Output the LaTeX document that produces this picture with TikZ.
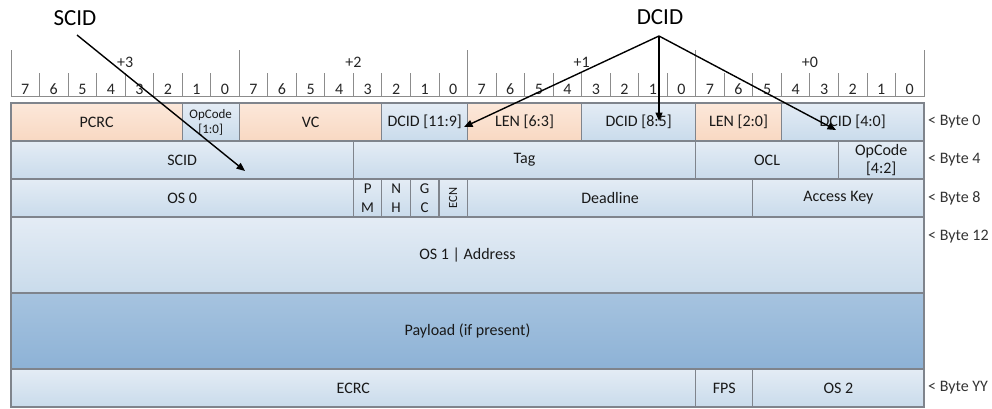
\documentclass[tikz,border=0pt]{standalone}
\usepackage{fontspec}
\setmainfont{Carlito}
\usepackage{tikz}
\usetikzlibrary{positioning}
\usetikzlibrary{arrows.meta}

\definecolor{fieldline}{HTML}{7F848C}
\definecolor{rulerline}{HTML}{8C8C8C}
\definecolor{blueTop}{HTML}{E4ECF5}
\definecolor{blueBot}{HTML}{C9DBEB}
\definecolor{orTop}{HTML}{FCE8DA}
\definecolor{orBot}{HTML}{F8D8C2}
\definecolor{payTop}{HTML}{A6C3DF}
\definecolor{payBot}{HTML}{8DB2D6}

\newcommand{\bitw}{28.53}

\tikzset{
  field/.style={draw=fieldline, line width=1.1pt, minimum height=38, inner sep=0pt, outer sep=0pt, align=center, text=black!90, font=\fontsize{16}{18}\selectfont},
  blue field/.style={field, top color=blueTop, bottom color=blueBot},
  orange field/.style={field, top color=orTop, bottom color=orBot},
  payload field/.style={field, top color=payTop, bottom color=payBot, minimum height=76},
  flag/.style={blue field, font=\fontsize{15}{19.5}\selectfont},
  ruler/.style={draw=rulerline, line width=0.8pt},
  bitnum/.style={font=\fontsize{16}{18}\selectfont, text=black!85, inner sep=0pt},
  bytelabel/.style={anchor=west, font=\fontsize{16}{18}\selectfont, text=black!80, inner sep=0pt},
  callout/.style={font=\fontsize{23}{26}\selectfont, text=black},
  ptr/.style={-{Triangle[length=8.5pt,width=7pt]}, line width=1.4pt, black}
}

\begin{document}
\begin{tikzpicture}[x=1pt,y=-1pt]
  \useasboundingbox (0,0) rectangle (992,408);

  % ruler with bit numbers
  \foreach \b in {0,...,32}
    \draw[ruler] (11+\b*\bitw,73) -- (11+\b*\bitw,96.5);
  \foreach \b in {0,8,...,32}
    \draw[ruler] (11+\b*\bitw,50) -- (11+\b*\bitw,73);
  \draw[ruler] (11,96.5) -- (11+32*\bitw,96.5);
  \foreach \b [evaluate=\b as \d using {int(7-mod(\b,8))}] in {0,...,31}
    \node[bitnum] (bit\b) at (11+\b*\bitw+0.5*\bitw,89) {\d};
  \foreach \k [evaluate=\k as \o using {int(3-\k)}] in {0,...,3}
    \node[bitnum] (byte\k) at (11+\k*8*\bitw+4*\bitw,62) {+\o};

  % byte 0
  \node[orange field, minimum width=6*\bitw, anchor=north west] (pcrc) at (11,103) {PCRC};
  \node[blue field, minimum width=2*\bitw, right=0pt of pcrc, font=\fontsize{13}{15}\selectfont] (opcodelo) {OpCode\\{[1:0]}};
  \node[orange field, minimum width=5*\bitw, right=0pt of opcodelo] (vc) {VC};
  \node[blue field, minimum width=3*\bitw, right=0pt of vc] (dcidhi) {DCID [11:9]};
  \node[orange field, minimum width=4*\bitw, right=0pt of dcidhi] (lenhi) {LEN [6:3]};
  \node[blue field, minimum width=4*\bitw, right=0pt of lenhi] (dcidmid) {DCID [8:5]};
  \node[orange field, minimum width=3*\bitw, right=0pt of dcidmid] (lenlo) {LEN [2:0]};
  \node[blue field, minimum width=5*\bitw, right=0pt of lenlo] (dcidlo) {DCID [4:0]};

  % byte 4
  \node[blue field, minimum width=12*\bitw, anchor=north west] (scid) at (11,141) {SCID};
  \node[blue field, minimum width=12*\bitw, right=0pt of scid] (tag) {Tag};
  \node[blue field, minimum width=5*\bitw, right=0pt of tag] (ocl) {OCL};
  \node[blue field, minimum width=3*\bitw, right=0pt of ocl] (opcodehi) {OpCode\\{[4:2]}};

  % byte 8
  \node[blue field, minimum width=12*\bitw, anchor=north west] (os0) at (11,179) {OS 0};
  \node[flag, minimum width=\bitw, right=0pt of os0] (pm) {P\\M};
  \node[flag, minimum width=\bitw, right=0pt of pm] (nh) {N\\H};
  \node[flag, minimum width=\bitw, right=0pt of nh] (gc) {G\\C};
  \node[flag, minimum width=\bitw, right=0pt of gc] (ecn) {};
  \node[rotate=90, font=\fontsize{12.5}{14}\selectfont, text=black!90] at (ecn.center) {ECN};
  \node[blue field, minimum width=10*\bitw, right=0pt of ecn] (deadline) {Deadline};
  \node[blue field, minimum width=6*\bitw, right=0pt of deadline] (akey) {Access Key};

  % byte 12 and payload
  \node[blue field, minimum width=32*\bitw, minimum height=76, anchor=north west] (os1) at (11,217) {OS 1 | Address};
  \node[payload field, minimum width=32*\bitw, anchor=north west] (payload) at (11,293) {Payload (if present)};

  % byte YY
  \node[blue field, minimum width=24*\bitw, anchor=north west] (ecrc) at (11,369) {ECRC};
  \node[blue field, minimum width=2*\bitw, right=0pt of ecrc] (fps) {FPS};
  \node[blue field, minimum width=6*\bitw, right=0pt of fps] (os2) {OS 2};

  % byte offsets
  \node[bytelabel] (b0) at (928,122) {< Byte 0};
  \node[bytelabel] (b4) at (928,160) {< Byte 4};
  \node[bytelabel] (b8) at (928,198) {< Byte 8};
  \node[bytelabel] (b12) at (928,237) {< Byte 12};
  \node[bytelabel] (byy) at (928,388) {< Byte YY};

  % callouts
  \node[callout] (scidlabel) at (75,18) {SCID};
  \node[callout] (dcidlabel) at (660,17) {DCID};
  \coordinate (scidfrom) at (77,35);
  \coordinate (dcidfork) at (659,36);
  \coordinate (scidtip) at (245,171);
  \coordinate (dcidhitip) at (464,127);
  \coordinate (dcidmidtip) at (659,121);
  \coordinate (dcidlotip) at (836,130);
  \draw[ptr] (scidfrom) -- (scidtip);
  \draw[ptr] (dcidfork) -- (dcidhitip);
  \draw[ptr] (dcidfork) -- (dcidmidtip);
  \draw[ptr] (dcidfork) -- (dcidlotip);
\end{tikzpicture}
\end{document}
